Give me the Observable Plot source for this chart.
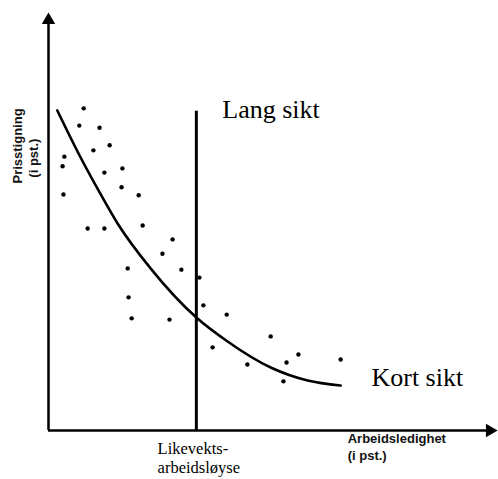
<!DOCTYPE html>
<html>
<head>
<meta charset="utf-8">
<script src="https://cdn.jsdelivr.net/npm/d3@7"></script>
<script src="https://cdn.jsdelivr.net/npm/@observablehq/plot@0.6"></script>
<style>
  html, body { margin: 0; padding: 0; background: #fff; }
  svg { display: block; }
</style>
</head>
<body>
<div id="chart"></div>
<script>
// Observations: unemployment (x) vs. price growth (y), arbitrary units
const obsUnemployment = [0.80,0.70,1.16,1.02,1.39,0.36,0.32,1.27,1.68,1.66,0.34,2.05,0.89,1.27,2.14,2.82,2.59,1.80,3.02,3.43,1.82,3.52,4.05,1.89,2.75,3.73,5.05,4.52,5.68,5.41,6.64,5.34];
const obsInflation    = [7.67,7.26,7.21,6.67,6.79,6.52,6.29,6.14,6.24,5.79,5.62,5.60,4.81,4.81,4.88,4.55,4.21,3.86,3.83,3.64,3.17,2.98,2.76,2.67,2.64,1.98,2.24,1.57,1.81,1.62,1.69,1.17];

// Short-run Phillips curve
const curveUnemployment = [0.20,0.73,1.14,1.57,2.32,3.36,4.07,5.05,5.89,6.64];
const curveInflation    = [7.62,6.50,5.71,4.93,3.86,2.69,2.12,1.50,1.19,1.07];

// Long-run (vertical) curve at the equilibrium unemployment
const naturalRate = 3.36;
const longRunTop = 7.6;

const labels = {
  longRun: "Lang sikt",
  shortRun: "Kort sikt",
  natural1: "Likevekts-",
  natural2: "arbeidsløyse",
  xLabel1: "Arbeidsledighet",
  xLabel2: "(i pst.)",
  yLabel1: "Prisstigning",
  yLabel2: "(i pst.)"
};

const obs = obsUnemployment.map((x, i) => ({x, y: obsInflation[i]}));
const curve = curveUnemployment.map((x, i) => ({x, y: curveInflation[i]}));

const serif = "'Liberation Serif', 'DejaVu Serif', serif";
const sans = "'Liberation Sans', Arial, sans-serif";

const chart = Plot.plot({
  width: 498,
  height: 479,
  margin: 0,
  x: {domain: [0, 10], range: [48, 488]},
  y: {domain: [0, 10], range: [430, 10]},
  axis: null,
  style: {background: "#fff", overflow: "visible"},
  marks: [
    // axes
    Plot.ruleX([0], {y1: 0, y2: 9.7, stroke: "#000", strokeWidth: 2.5}),
    Plot.ruleY([0], {x1: 0, x2: 10, stroke: "#000", strokeWidth: 2.5}),
    Plot.dot([{x: 0, y: 9.77}], {x: "x", y: "y", symbol: "triangle", r: 5, fill: "#000", stroke: "none"}),
    Plot.dot([{x: 10.03, y: 0}], {x: "x", y: "y", symbol: "triangle", rotate: 90, r: 5, fill: "#000", stroke: "none"}),
    // long run vertical
    Plot.ruleX([naturalRate], {y1: 0, y2: longRunTop, stroke: "#000", strokeWidth: 3}),
    // short-run curve
    Plot.line(curve, {x: "x", y: "y", curve: "monotone-x", stroke: "#000", strokeWidth: 2.6}),
    // observations
    Plot.dot(obs, {x: "x", y: "y", r: 2.2, fill: "#000", stroke: "none"}),
    // annotations
    Plot.text([labels.longRun], {x: 3.95, y: 7.45, text: d => d, textAnchor: "start", lineAnchor: "bottom", fontSize: 26, fontFamily: serif, fill: "#000"}),
    Plot.text([labels.shortRun], {x: 7.34, y: 1.07, text: d => d, textAnchor: "start", lineAnchor: "bottom", fontSize: 26, fontFamily: serif, fill: "#000"}),
    Plot.text([labels.natural1], {x: 2.48, y: -0.571, text: d => d, textAnchor: "start", lineAnchor: "bottom", fontSize: 16.5, fontFamily: serif, fill: "#000"}),
    Plot.text([labels.natural2], {x: 2.48, y: -1.02, text: d => d, textAnchor: "start", lineAnchor: "bottom", fontSize: 16.5, fontFamily: serif, fill: "#000"}),
    Plot.text([labels.xLabel1], {x: 6.80, y: -0.286, text: d => d, textAnchor: "start", lineAnchor: "bottom", fontSize: 13, fontFamily: sans, fill: "#111", fontWeight: "bold"}),
    Plot.text([labels.xLabel2], {x: 6.80, y: -0.714, text: d => d, textAnchor: "start", lineAnchor: "bottom", fontSize: 13, fontFamily: sans, fill: "#111", fontWeight: "bold"}),
    Plot.text([labels.yLabel1], {x: -0.61, y: 5.88, text: d => d, rotate: -90, textAnchor: "start", lineAnchor: "bottom", fontSize: 13, fontFamily: sans, fill: "#111", fontWeight: "bold"}),
    Plot.text([labels.yLabel2], {x: -0.23, y: 6.02, text: d => d, rotate: -90, textAnchor: "start", lineAnchor: "bottom", fontSize: 13, fontFamily: sans, fill: "#111", fontWeight: "bold"})
  ]
});

document.getElementById("chart").appendChild(chart);
</script>
</body>
</html>
